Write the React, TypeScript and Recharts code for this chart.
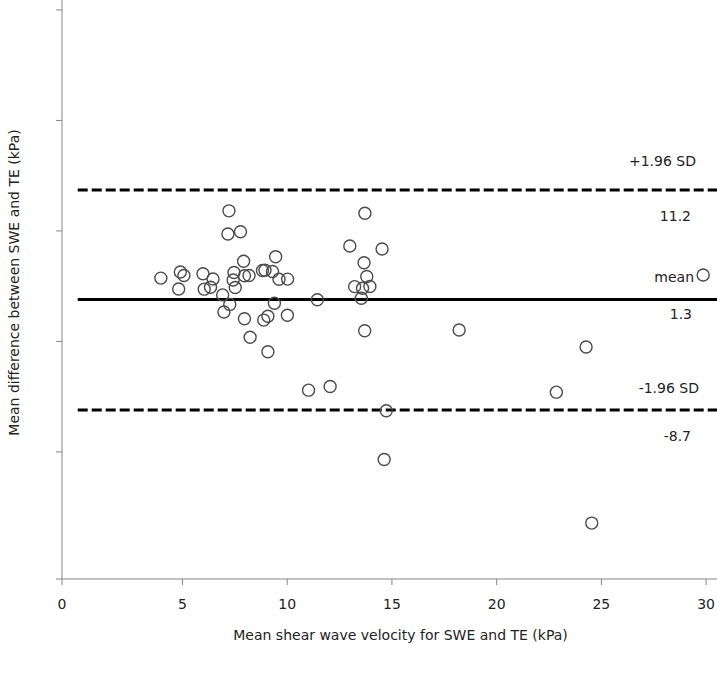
import React from 'react';
import { ScatterChart, Scatter, XAxis, YAxis, ReferenceLine } from 'recharts';

// mean of SWE and TE (kPa)
const meanValues = [
  3.97, 4.9, 5.07, 4.82, 5.98, 6.04, 6.34, 6.46, 6.92, 6.98,
  7.22, 7.17, 7.77, 7.26, 7.46, 7.42, 7.52, 7.92, 7.96, 8.18,
  7.96, 8.23, 8.82, 8.94, 8.88, 9.08, 9.08, 9.3, 9.45, 9.39,
  9.61, 10.02, 10.01, 11.44, 11.02, 12.05, 12.99, 13.22, 13.71, 13.67,
  13.6, 13.8, 13.95, 13.54, 13.7, 14.53, 14.73, 14.63, 18.21, 22.85,
  24.27, 24.54, 29.86,
];
// difference SWE - TE (kPa)
const diffValues = [
  3.23, 3.79, 3.47, 2.25, 3.63, 2.23, 2.4, 3.15, 1.71, 0.17,
  9.32, 7.22, 7.42, 0.85, 3.74, 3.06, 2.38, 4.76, 3.45, 3.47,
  -0.45, -2.12, 3.92, 3.95, -0.57, -0.22, -3.43, 3.83, 5.17, 0.96,
  3.13, 3.14, -0.13, 1.27, -6.91, -6.58, 6.14, 2.46, 9.1, 4.62,
  2.31, 3.38, 2.47, 1.41, -1.53, 5.87, -8.78, -13.19, -1.46, -7.09,
  -3.0, -18.94, 3.51,
];

const limitValues = [11.2, 1.3, -8.7];
const limitNames = ['+1.96 SD', 'mean', '-1.96 SD'];
const limitTexts = ['11.2', '1.3', '-8.7'];

const xTicks = [-0.75, 5, 10, 15, 20, 25, 30];
const xTickLabels = ['0', '5', '10', '15', '20', '25', '30'];
const yTicks = [-24, -12.5, -2.5, 7.5, 17.5, 27.5];
const xDomain = [-0.75, 30.52];
const yDomain = [-24, 28.4];

const points = meanValues.map((x, i) => ({ x, y: diffValues[i] }));

const FONT = 'DejaVu Sans';
const TXT = '#222';
const AXIS = '#858585';

// text offsets from the right end of each line: [nameDx, nameDy, valueDx, valueDy]
const labelOffsets = [
  [-21, -29, -26, 26],
  [-23, -22, -25, 15],
  [-18, -22, -26, 26],
];

function limitLabel(i: number) {
  return (props: any) => {
    const vb = props.viewBox || {};
    const right = vb.x + vb.width;
    const y = vb.y;
    const [ndx, ndy, vdx, vdy] = labelOffsets[i];
    return (
      <g>
        <text x={right + ndx} y={y + ndy} textAnchor="end" dominantBaseline="central"
          fontSize={14} fontFamily={FONT} fill={TXT}>{limitNames[i]}</text>
        <text x={right + vdx} y={y + vdy} textAnchor="end" dominantBaseline="central"
          fontSize={14} fontFamily={FONT} fill={TXT}>{limitTexts[i]}</text>
      </g>
    );
  };
}

const yLabel = (props: any) => {
  const vb = props.viewBox;
  const cx = vb.x + 14;
  const cy = vb.y + vb.height / 2 - 7;
  return (
    <text x={cx} y={cy} transform={`rotate(-90 ${cx} ${cy})`} textAnchor="middle"
      dominantBaseline="central" fontSize={14} fontFamily={FONT} fill={TXT}>
      Mean difference between SWE and TE (kPa)
    </text>
  );
};

const xLabel = (props: any) => {
  const vb = props.viewBox;
  return (
    <text x={vb.x + vb.width / 2 + 11} y={vb.y + 56} textAnchor="middle"
      dominantBaseline="central" fontSize={14} fontFamily={FONT} fill={TXT}>
      Mean shear wave velocity for SWE and TE (kPa)
    </text>
  );
};

const dot = (props: any) => (
  <circle cx={props.cx} cy={props.cy} r={6} fill="none" stroke="#4a4a4a" strokeWidth={1.4} />
);

export default function App() {
  return (
    <div style={{ position: 'absolute', left: 0, top: 0, background: '#fff' }}>
      <ScatterChart width={717} height={673} margin={{ top: 0, right: 0, bottom: 0, left: 0 }}
        style={{ fontFamily: FONT }}>
        <XAxis type="number" dataKey="x" domain={xDomain} ticks={xTicks} interval={0}
          allowDataOverflow height={94} stroke={AXIS} tickSize={6} tickMargin={14}
          tick={{ fill: TXT, fontSize: 14, fontFamily: FONT }}
          tickFormatter={(v: number, i: number) => xTickLabels[i]}
          label={xLabel} />
        <YAxis type="number" dataKey="y" domain={yDomain} ticks={yTicks} interval={0}
          allowDataOverflow width={62} stroke={AXIS} tickSize={6}
          tick={{ fill: TXT, fontSize: 14 }} tickFormatter={() => ''}
          label={yLabel} />
        {limitValues.map((v, i) => (
          <ReferenceLine key={i}
            segment={[{ x: 0, y: v }, { x: xDomain[1], y: v }]}
            stroke="#000" strokeWidth={3}
            strokeDasharray={i === 1 ? undefined : '10 4'}
            label={limitLabel(i)} />
        ))}
        <Scatter data={points} isAnimationActive={false} shape={dot} />
      </ScatterChart>
    </div>
  );
}
